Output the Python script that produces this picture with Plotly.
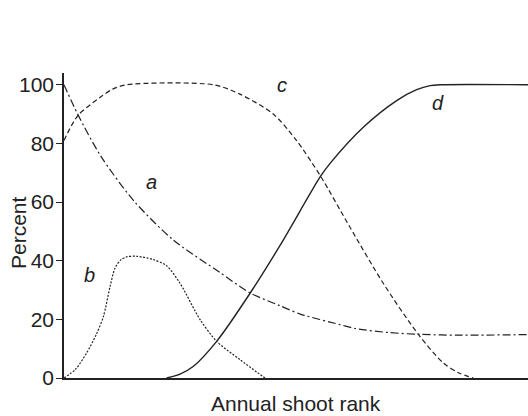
"""
Annual shoot rank curves (a, b, c, d)
"""

import plotly.graph_objects as go

# curve a (dash-dot)
a_x = [0, 3, 8, 15, 23.6, 33.6, 40.1, 46.6, 50.9, 59.5, 63, 70, 76.4, 85, 100]
a_y = [100, 89.8, 75.5, 60.5, 47, 36, 29, 24.6, 21.8, 18.2, 16.8, 15.5, 14.9, 14.6, 14.8]

# curve b (dotted)
b_x = [0, 2.5, 4.9, 7, 8.5, 9.9, 11, 12.2, 13.5, 15.7, 19, 22.1, 25, 29.3, 32.9, 37.9, 43.3]
b_y = [0, 3, 8.6, 15, 21, 31, 37.5, 40.2, 41.3, 41.5, 40.5, 38.3, 32.3, 20, 12.5, 6.3, 0]

# curve c (dashed)
c_x = [0, 3, 7.8, 10.5, 13.5, 32.2, 37.9, 45.1, 50.1, 55.3, 61.6, 68.8, 76.4, 81.7, 85, 88.2]
c_y = [81, 89.5, 95.7, 98.5, 100, 100, 96.8, 90, 81, 68.8, 51.5, 32.3, 14.8, 5.2, 1.8, 0]

# curve d (solid)
d_x = [22.1, 25, 27.9, 32.9, 40.1, 46.6, 55.3, 57.3, 64.5, 71.7, 76, 78.9, 81, 100]
d_y = [0, 1.3, 4, 12.5, 28.9, 45.3, 68.8, 73.1, 85.5, 94.6, 98.3, 99.7, 100, 100]

y_ticks = [0, 20, 40, 60, 80, 100]

ink = '#222222'
font = 'Liberation Sans, Arial, Helvetica, sans-serif'

W, H = 528, 416
L, R, T, B = 64, 0, 73, 38
plot_w = W - L - R
plot_h = H - T - B

fig = go.Figure()
fig.add_trace(go.Scatter(x=a_x, y=a_y, mode='lines',
                         line=dict(color=ink, width=1.2, shape='spline', smoothing=0.8, dash='8px,3px,2px,3px')))
fig.add_trace(go.Scatter(x=b_x, y=b_y, mode='lines',
                         line=dict(color=ink, width=1.2, shape='spline', smoothing=0.8, dash='2px,1.5px')))
fig.add_trace(go.Scatter(x=c_x, y=c_y, mode='lines',
                         line=dict(color=ink, width=1.2, shape='spline', smoothing=0.8, dash='5px,3px')))
fig.add_trace(go.Scatter(x=d_x, y=d_y, mode='lines',
                         line=dict(color=ink, width=1.4, shape='spline', smoothing=0.8)))

# curve labels
for txt, x, y in [('a', 18.9, 66.9), ('b', 5.6, 35.1), ('c', 46.9, 99.9), ('d', 80.7, 93.7)]:
    fig.add_annotation(x=x, y=y, text='<i>%s</i>' % txt, showarrow=False,
                       xanchor='center', yanchor='middle',
                       font=dict(family=font, size=20, color=ink))

# axis titles (pixel positions converted to paper coords)
fig.add_annotation(xref='paper', yref='paper', x=(296 - L) / plot_w, y=(H - B - 403) / plot_h,
                   text='Annual shoot rank', showarrow=False, xanchor='center', yanchor='middle',
                   font=dict(family=font, size=21, color=ink))
fig.add_annotation(xref='paper', yref='paper', x=(18 - L) / plot_w, y=(H - B - 233) / plot_h,
                   text='Percent', showarrow=False, textangle=-90, xanchor='center', yanchor='middle',
                   font=dict(family=font, size=21, color=ink))

fig.update_layout(
    width=W, height=H,
    margin=dict(l=L, r=R, t=T, b=B),
    paper_bgcolor='white', plot_bgcolor='white',
    showlegend=False,
    font=dict(family=font, size=21, color=ink),
)

fig.update_xaxes(range=[0, 100], showline=True, linecolor=ink, linewidth=1.5,
                 showgrid=False, zeroline=False, showticklabels=False, ticks='')
fig.update_yaxes(range=[0, 104], showline=True, linecolor=ink, linewidth=1.5,
                 showgrid=False, zeroline=False, tickvals=y_ticks, ticks='outside',
                 ticklen=6, tickwidth=1.2, tickcolor=ink, tickfont=dict(size=21, color=ink),
                 ticklabelstandoff=-2)

fig.write_html("out.html", config={'displayModeBar': False},
               post_script="document.body.style.margin='0';")
